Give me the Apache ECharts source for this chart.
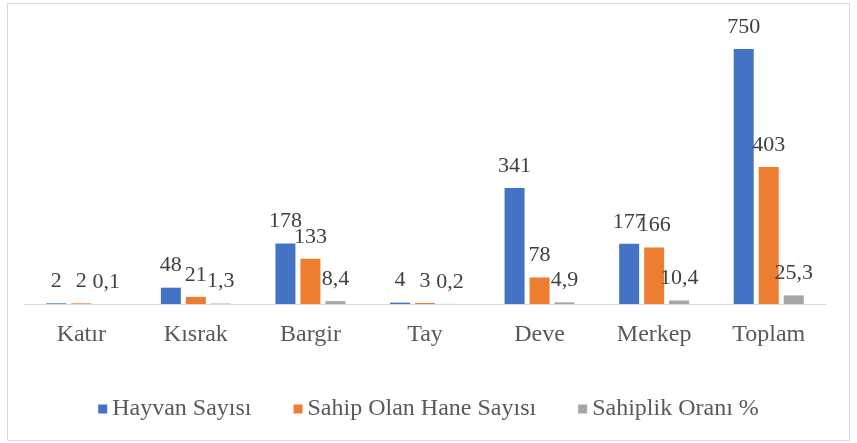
<!DOCTYPE html>
<html>
<head>
<meta charset="utf-8">
<script src="https://cdn.jsdelivr.net/npm/echarts@6/dist/echarts.min.js"></script>
<style>
  html, body { margin: 0; padding: 0; background: #fff; }
  #chart { width: 857px; height: 443px; }
</style>
</head>
<body>
<div id="chart"></div>
<script>
// data
const categories = ['Katır', 'Kısrak', 'Bargir', 'Tay', 'Deve', 'Merkep', 'Toplam'];
const hayvanSayisi = [2, 48, 178, 4, 341, 177, 750];
const haneSayisi = [2, 21, 133, 3, 78, 166, 403];
const sahiplikOrani = [0.1, 1.3, 8.4, 0.2, 4.9, 10.4, 25.3];
const seriesNames = ['Hayvan Sayısı', 'Sahip Olan Hane Sayısı', 'Sahiplik Oranı %'];

const colors = ['#4472C4', '#ED7D31', '#A5A5A5'];
const serif = '"Liberation Serif", "Times New Roman", serif';

const label = {
    show: true,
    position: 'top',
    distance: 11,
    fontFamily: serif,
    fontSize: 22,
    color: '#404040',
    formatter: p => String(p.value).replace('.', ',')
};

function makeSeries(name, data) {
    return {
        name: name,
        type: 'bar',
        data: data,
        barWidth: 20,
        barGap: '25%',
        label: label
    };
}

let myChart = echarts.init(document.getElementById('chart'));
myChart.setOption({
    animation: false,
    color: colors,
    graphic: [{
        type: 'rect',
        shape: { x: 7.5, y: 3.5, width: 842, height: 437 },
        style: { fill: 'none', stroke: '#d9d9d9', lineWidth: 1 }
    }],
    grid: { left: 24, right: 31, top: 32, bottom: 139 },
    legend: {
        top: 392,
        left: 'center',
        itemWidth: 9,
        itemHeight: 9,
        itemGap: 42,
        icon: 'rect',
        textStyle: { fontFamily: serif, fontSize: 24, color: '#595959' },
        data: seriesNames
    },
    xAxis: {
        type: 'category',
        data: categories,
        axisLine: { lineStyle: { color: '#d9d9d9', width: 1 } },
        axisTick: { show: false },
        axisLabel: { fontFamily: serif, fontSize: 24, color: '#595959', margin: 19 }
    },
    yAxis: {
        type: 'value',
        min: 0,
        max: 800,
        show: false,
        splitLine: { show: false }
    },
    series: [
        makeSeries(seriesNames[0], hayvanSayisi),
        makeSeries(seriesNames[1], haneSayisi),
        makeSeries(seriesNames[2], sahiplikOrani)
    ]
});
</script>
</body>
</html>
